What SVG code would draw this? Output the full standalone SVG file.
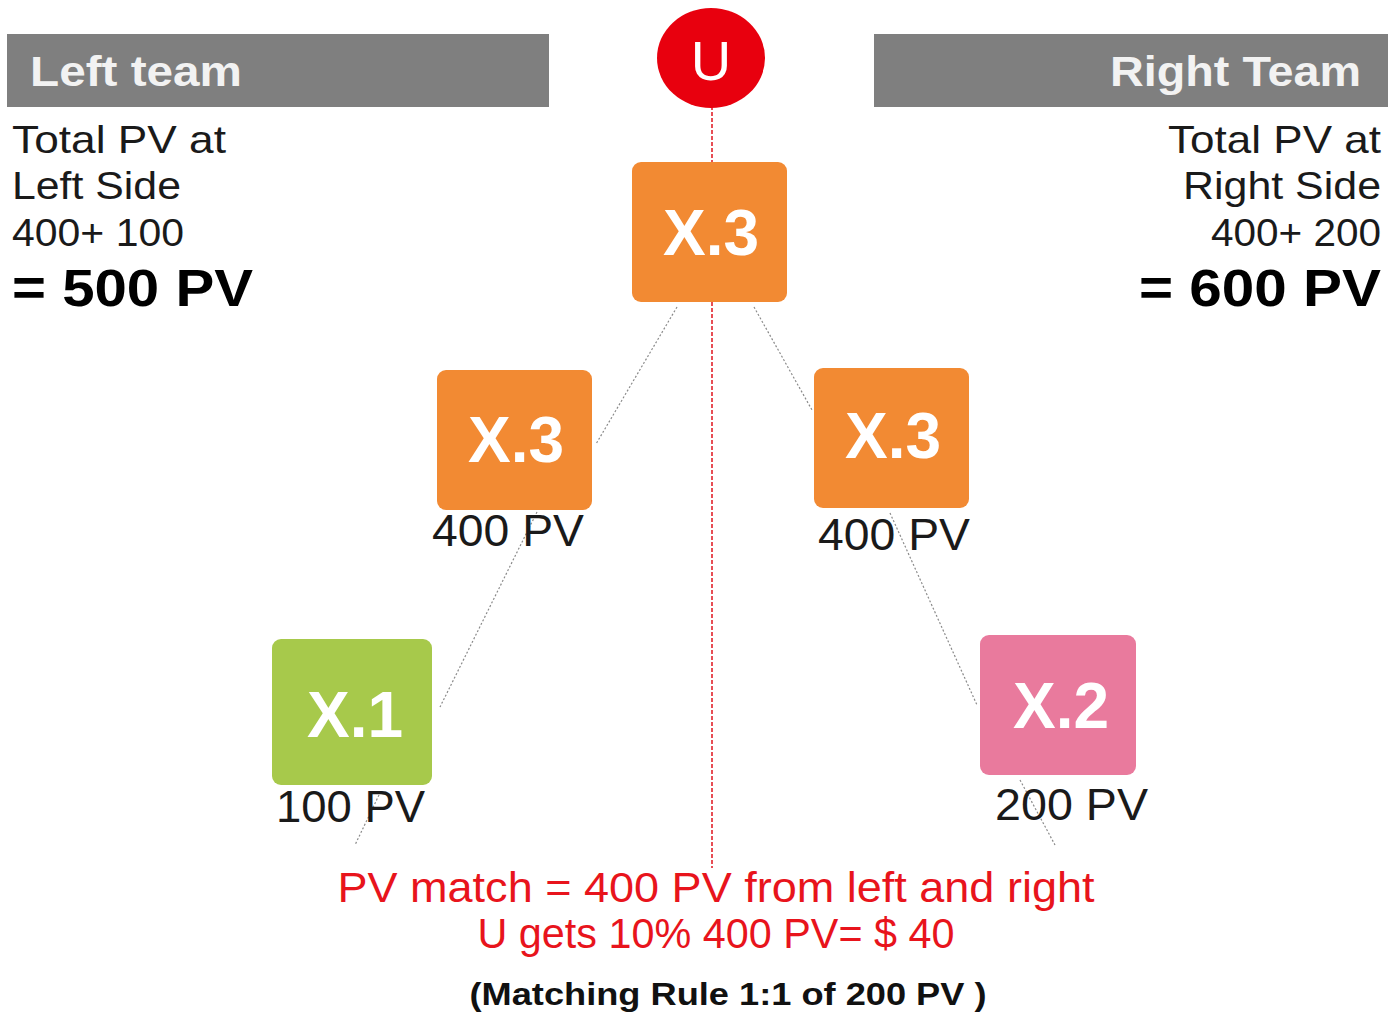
<svg xmlns="http://www.w3.org/2000/svg" width="1393" height="1017" viewBox="0 0 1393 1017">
<style>
text{font-family:"Liberation Sans",Arial,sans-serif}
.hdr{fill:#7f7f7f}
.htxt{fill:#f2f2f2;font-weight:bold;font-size:43px}
.side{fill:#1a1a1a;font-size:39px}
.total{fill:#000;font-weight:bold;font-size:51px}
.box{rx:9;ry:9}
.orange{fill:#f28a33}
.green{fill:#a7c94b}
.pink{fill:#e97a9d}
.btxt{fill:#fff;font-weight:bold;font-size:64px;text-anchor:middle}
.pv{fill:#1a1a1a;font-size:45px}
.conn{stroke:#8a8a8a;stroke-width:1.2;stroke-dasharray:2 2;fill:none}
.red{stroke:#e0141e;stroke-width:1.5;stroke-dasharray:4 2;fill:none}
.note{fill:#e8141c;font-size:42px;text-anchor:middle}
.rule{fill:#111;font-weight:bold;font-size:32px;text-anchor:middle}
</style>
<g id="connectors">
<line class="red" x1="712" y1="106" x2="712" y2="162"/>
<line class="red" x1="712" y1="302" x2="712" y2="868"/>
<line class="conn" x1="677" y1="307" x2="596" y2="444"/>
<line class="conn" x1="754" y1="307" x2="812" y2="410"/>
<line class="conn" x1="537" y1="512" x2="440" y2="707"/>
<line class="conn" x1="379" y1="795" x2="355" y2="845"/>
<line class="conn" x1="890" y1="513" x2="977" y2="705"/>
<line class="conn" x1="1020" y1="780" x2="1055" y2="845"/>
</g>
<g id="left-team">
<rect class="hdr" x="7" y="34" width="542" height="73"/>
<text class="htxt" x="30" y="86" textLength="212" lengthAdjust="spacingAndGlyphs">Left team</text>
<text class="side" x="12" y="153" textLength="214" lengthAdjust="spacingAndGlyphs">Total PV at</text>
<text class="side" x="12" y="199" textLength="169" lengthAdjust="spacingAndGlyphs">Left Side</text>
<text class="side" x="12" y="246" textLength="172" lengthAdjust="spacingAndGlyphs">400+ 100</text>
<text class="total" x="12" y="306" textLength="241" lengthAdjust="spacingAndGlyphs">= 500 PV</text>
</g>
<g id="right-team">
<rect class="hdr" x="874" y="34" width="514" height="73"/>
<text class="htxt" x="1110" y="86" textLength="251" lengthAdjust="spacingAndGlyphs">Right Team</text>
<text class="side" x="1168" y="153" textLength="213" lengthAdjust="spacingAndGlyphs">Total PV at</text>
<text class="side" x="1183" y="199" textLength="198" lengthAdjust="spacingAndGlyphs">Right Side</text>
<text class="side" x="1211" y="246" textLength="170" lengthAdjust="spacingAndGlyphs">400+ 200</text>
<text class="total" x="1139" y="306" textLength="242" lengthAdjust="spacingAndGlyphs">= 600 PV</text>
</g>
<g id="node-u">
<ellipse cx="711" cy="58" rx="54" ry="50" fill="#e8000e"/>
<text x="711" y="80" fill="#fff" font-size="56" text-anchor="middle">U</text>
</g>
<g id="node-top">
<rect class="box orange" x="632" y="162" width="155" height="140"/>
<text class="btxt" x="711" y="255">X.3</text>
</g>
<g id="node-left">
<rect class="box orange" x="437" y="370" width="155" height="140"/>
<text class="btxt" x="516" y="462">X.3</text>
<text class="pv" x="432" y="546" textLength="152" lengthAdjust="spacingAndGlyphs">400 PV</text>
</g>
<g id="node-right">
<rect class="box orange" x="814" y="368" width="155" height="140"/>
<text class="btxt" x="893" y="458">X.3</text>
<text class="pv" x="818" y="550" textLength="152" lengthAdjust="spacingAndGlyphs">400 PV</text>
</g>
<g id="node-x1">
<rect class="box green" x="272" y="639" width="160" height="146"/>
<text class="btxt" x="355" y="737">X.1</text>
<text class="pv" x="276" y="822" textLength="149" lengthAdjust="spacingAndGlyphs">100 PV</text>
</g>
<g id="node-x2">
<rect class="box pink" x="980" y="635" width="156" height="140"/>
<text class="btxt" x="1061" y="728">X.2</text>
<text class="pv" x="995" y="820" textLength="153" lengthAdjust="spacingAndGlyphs">200 PV</text>
</g>
<g id="notes">
<text class="note" x="716" y="902" textLength="757" lengthAdjust="spacingAndGlyphs">PV match = 400 PV from left and right</text>
<text class="note" x="716" y="948" textLength="477" lengthAdjust="spacingAndGlyphs">U gets 10% 400 PV= $ 40</text>
<text class="rule" x="728" y="1005" textLength="517" lengthAdjust="spacingAndGlyphs">(Matching Rule 1:1 of 200 PV )</text>
</g>
</svg>
